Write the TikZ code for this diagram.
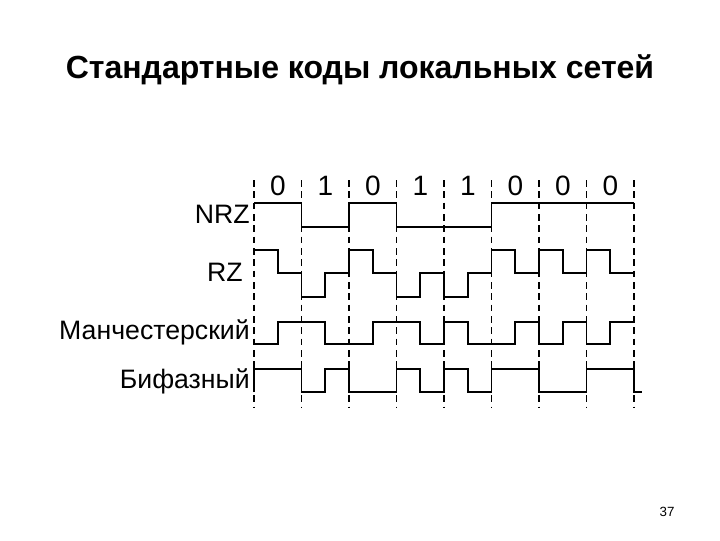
\documentclass[tikz,border=0pt]{standalone}
\usepackage{fontspec}
\setmainfont{Liberation Sans}
\begin{document}
\begin{tikzpicture}[x=0.75pt,y=-0.75pt,
  wave/.style={line width=1.3pt,line join=miter},
  grid/.style={line width=0.9pt,dash pattern=on 5pt off 3.5pt},
  lbl/.style={anchor=east,font=\fontsize{20}{23}\selectfont,inner sep=0pt},
  bit/.style={font=\fontsize{21}{24}\selectfont,inner sep=0pt}]
\useasboundingbox (0,0) rectangle (720,540);
\node[font=\bfseries\fontsize{24}{28}\selectfont] (title) at (360,70) {Стандартные коды локальных сетей};
\foreach \i in {0,...,8} {\draw[grid] ({254+47.5*\i},180) -- ({254+47.5*\i},408);}
\foreach \b [count=\i from 0] in {0,1,0,1,1,0,0,0} {\node[bit] (b\i) at ({278+47.5*\i},186) {\b};}
\node[lbl] (nrz) at (250,214) {NRZ};
\node[lbl] (rz) at (243,272) {RZ};
\node[lbl] (man) at (250,332) {Манчестерский};
\node[lbl] (bif) at (250,381) {Бифазный};
\node[font=\fontsize{10}{12}\selectfont] (pg) at (667,512) {37};
% NRZ
\draw[wave] (254,203) -- (301.5,203) -- (301.5,227) -- (349,227) -- (349,203) -- (396.5,203) -- (396.5,227) -- (491.5,227) -- (491.5,203) -- (634,203);
% RZ
\draw[wave] (254,250) -- (277.75,250) -- (277.75,273) -- (301.5,273) -- (301.5,297) -- (325.25,297) -- (325.25,273) -- (349,273)
 -- (349,250) -- (372.75,250) -- (372.75,273) -- (396.5,273) -- (396.5,297) -- (420.25,297) -- (420.25,273) -- (444,273)
 -- (444,297) -- (467.75,297) -- (467.75,273) -- (491.5,273) -- (491.5,250) -- (515.25,250) -- (515.25,273) -- (539,273)
 -- (539,250) -- (562.75,250) -- (562.75,273) -- (586.5,273) -- (586.5,250) -- (610.25,250) -- (610.25,273) -- (634,273);
% Manchester
\draw[wave] (254,344) -- (277.75,344) -- (277.75,322) -- (325.25,322) -- (325.25,344) -- (372.75,344) -- (372.75,322) -- (420.25,322)
 -- (420.25,344) -- (444,344) -- (444,322) -- (467.75,322) -- (467.75,344) -- (515.25,344) -- (515.25,322) -- (539,322)
 -- (539,344) -- (562.75,344) -- (562.75,322) -- (586.5,322) -- (586.5,344) -- (610.25,344) -- (610.25,322) -- (634,322);
% Biphase
\draw[wave] (254,392) -- (254,369) -- (301.5,369) -- (301.5,392) -- (325.25,392) -- (325.25,369) -- (349,369) -- (349,392) -- (396.5,392)
 -- (396.5,369) -- (420.25,369) -- (420.25,392) -- (444,392) -- (444,369) -- (467.75,369) -- (467.75,392) -- (491.5,392)
 -- (491.5,369) -- (539,369) -- (539,392) -- (586.5,392) -- (586.5,369) -- (634,369) -- (634,392) -- (642,392);
\end{tikzpicture}
\end{document}
